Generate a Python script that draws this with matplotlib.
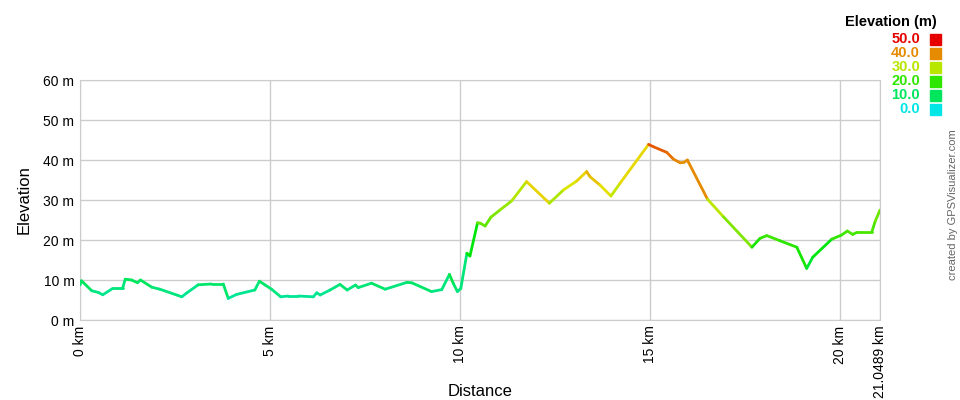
import matplotlib
matplotlib.use("Agg")
import matplotlib.pyplot as plt
import numpy as np
from matplotlib.collections import LineCollection
from matplotlib.colors import ListedColormap, Normalize, hsv_to_rgb

plt.rcParams['font.family'] = ['Liberation Sans', 'DejaVu Sans']

# track profile: distance (km) and elevation (m)
dist = [0.0, 0.04, 0.31, 0.48, 0.6, 0.86, 1.12, 1.19, 1.36, 1.51, 1.59, 1.89, 2.1,
        2.68, 2.8, 3.11, 3.46, 3.77, 3.9, 4.12, 4.6, 4.72, 4.87, 5.04, 5.28, 5.48,
        5.74, 6.14, 6.23, 6.32, 6.58, 6.84, 7.03, 7.25, 7.32, 7.67, 8.03, 8.6, 8.73,
        9.25, 9.52, 9.72, 9.82, 9.93, 10.02, 10.18, 10.26, 10.46, 10.53, 10.66,
        10.81, 11.05, 11.36, 11.75, 12.35, 12.72, 13.07, 13.33, 13.42, 13.68, 13.97,
        14.21, 14.96, 15.09, 15.44, 15.61, 15.79, 15.89, 15.98, 16.51, 16.93, 17.68,
        17.89, 18.07, 18.42, 18.86, 19.12, 19.28, 19.78, 20.04, 20.19, 20.33, 20.44,
        20.83, 20.92, 21.0489]
elev = [8.75, 9.8, 7.3, 6.9, 6.3, 7.9, 7.9, 10.2, 10.0, 9.3, 10.0, 8.2, 7.7,
        5.8, 6.7, 8.8, 9.0, 9.0, 5.4, 6.4, 7.5, 9.7, 8.75, 7.7, 5.8, 6.0,
        6.0, 5.8, 6.8, 6.25, 7.5, 8.9, 7.5, 8.75, 8.1, 9.2, 7.7, 9.4, 9.3,
        7.1, 7.6, 11.4, 9.2, 7.1, 7.9, 16.7, 16.0, 24.3, 24.2, 23.5,
        25.7, 27.5, 29.8, 34.6, 29.2, 32.5, 34.75, 37.1, 35.8, 33.75, 31.0,
        34.2, 43.9, 43.3, 41.9, 40.25, 39.3, 39.4, 40.0, 30.2, 25.8, 18.2,
        20.4, 21.1, 19.8, 18.2, 12.9, 15.7, 20.2, 21.25, 22.25, 21.4, 21.9,
        21.9, 24.6, 27.5]

legend_vals = [50.0, 40.0, 30.0, 20.0, 10.0, 0.0]
legend_cols = ['#e60000', '#e68a00', '#b8e600', '#2ee600', '#00e65c', '#00e6e6']
x_ticks = [0, 5, 10, 15, 20, 21.0489]
x_labels = ['0 km', '5 km', '10 km', '15 km', '20 km', '21.0489 km']
y_ticks = [0, 10, 20, 30, 40, 50, 60]
y_labels = ['%d m' % v for v in y_ticks]

# hue goes from cyan (0 m) to red (50 m)
hues = np.linspace(0.5, 0.0, 256)
cmap = ListedColormap(hsv_to_rgb(np.column_stack([hues, np.ones(256), np.full(256, 0.9)])))
norm = Normalize(0, 50)

fig = plt.figure(figsize=(9.6, 4.0), dpi=100)
ax = fig.add_axes([80 / 960, 80 / 400, 800 / 960, 240 / 400])

x = np.array(dist)
y = np.array(elev)
pts = np.column_stack([x, y]).reshape(-1, 1, 2)
segs = np.concatenate([pts[:-1], pts[1:]], axis=1)
lc = LineCollection(segs, cmap=cmap, norm=norm, linewidth=2.0,
                    capstyle='round', joinstyle='round', zorder=3)
lc.set_array(y[:-1])  # each segment takes the colour of its start point
ax.add_collection(lc)

ax.set_xlim(0, 21.0489)
ax.set_ylim(0, 60)
ax.set_xticks(x_ticks)
ax.set_xticklabels(x_labels, rotation=90, fontsize=10)
ax.set_yticks(y_ticks)
ax.set_yticklabels(y_labels, fontsize=10)
ax.tick_params(length=0, pad=4)
ax.grid(True, color='#cccccc', linewidth=1)
for s in ax.spines.values():
    s.set_color('#cccccc')

# axis titles
fig.text(480 / 960, 1 - 392 / 400, 'Distance', fontsize=12, ha='center', va='center')
fig.text(24 / 960, 1 - 200 / 400, 'Elevation', fontsize=12, rotation=90,
         ha='center', va='center')

# legend
fig.text(937 / 960, 1 - 22 / 400, 'Elevation (m)', fontsize=10.5, fontweight='bold',
         ha='right', va='center')
for i, (v, c) in enumerate(zip(legend_vals, legend_cols)):
    yc = 1 - (39 + 14 * i) / 400
    fig.text(920 / 960, yc, '%.1f' % v, color=c, fontsize=10.5, fontweight='bold',
             ha='right', va='center')
    fig.patches.append(plt.Rectangle((929.5 / 960, yc - 5.5 / 400), 11 / 960, 11 / 400,
                                     transform=fig.transFigure, color=c))

fig.text(953 / 960, 1 - 205 / 400, 'created by GPSVisualizer.com', rotation=90,
         color='#666666', fontsize=8, ha='center', va='center')

fig.savefig('out.png', dpi=100)
